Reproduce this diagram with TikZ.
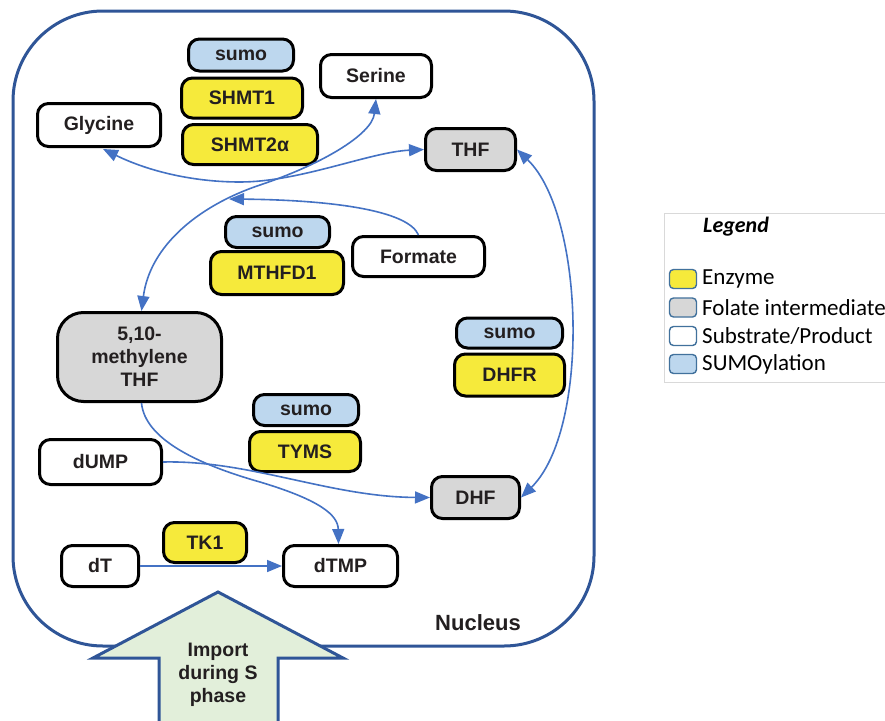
\documentclass[tikz,border=0pt]{standalone}
\usepackage{fontspec}
\setmainfont{Liberation Sans}
\newfontfamily\legfont{Carlito}
\usetikzlibrary{arrows.meta,calc}
\definecolor{enz}{HTML}{F6EA3B}
\definecolor{sumoc}{HTML}{BDD7EE}
\definecolor{fol}{HTML}{D7D7D7}
\definecolor{arr}{HTML}{4472C4}
\definecolor{nuc}{HTML}{2F5597}
\definecolor{imp}{HTML}{E2EFDA}
\definecolor{txtc}{HTML}{231F20}
\definecolor{legb}{HTML}{41719C}
\newcommand{\nodefont}{\fontsize{19.5}{23}\selectfont\bfseries}
\begin{document}
\begin{tikzpicture}[x=1pt,y=-1pt,
  box/.style={draw=black, line width=3pt, rounded corners=11pt, inner sep=0pt, font=\nodefont, text=txtc, align=center},
  conn/.style={draw=arr, line width=1.6pt, -{Triangle[length=15pt,width=12pt]}},
  dconn/.style={draw=arr, line width=1.6pt, {Triangle[length=15pt,width=12pt]}-{Triangle[length=15pt,width=12pt]}},
  legsq/.style={draw=legb, line width=1.4pt, rounded corners=4pt, minimum width=27pt, minimum height=19pt, inner sep=0pt},
  legtxt/.style={font=\legfont\fontsize{23}{26}\selectfont, text=black, anchor=west, inner sep=0pt}]
\useasboundingbox (0,0) rectangle (885,720);
\fill[white] (0,0) rectangle (885,720);
% nucleus
\draw[nuc, line width=3pt, rounded corners=90pt] (13,11) rectangle (594,646);
\node[font=\fontsize{22}{26}\selectfont\bfseries, text=txtc, inner sep=0pt] (nucl) at (478,623) {Nucleus};
% nodes
\node[box, fill=sumoc, minimum width=105pt, minimum height=32pt] (sumoa) at (241,55) {sumo};
\node[box, fill=enz, minimum width=121pt, minimum height=40pt] (shmta) at (242,98) {SHMT1};
\node[box, fill=enz, minimum width=135pt, minimum height=40pt] (shmtb) at (250,144.5) {SHMT2α};
\node[box, fill=white, minimum width=111pt, minimum height=43pt] (serine) at (376,76) {Serine};
\node[box, fill=white, minimum width=123pt, minimum height=43pt] (glycine) at (99,125) {Glycine};
\node[box, fill=fol, minimum width=90pt, minimum height=42pt] (thf) at (470.5,149.5) {THF};
\node[box, fill=sumoc, minimum width=104pt, minimum height=31pt] (sumob) at (277.5,232) {sumo};
\node[box, fill=enz, minimum width=133pt, minimum height=43pt] (mthfd) at (277,273) {MTHFD1};
\node[box, fill=white, minimum width=132pt, minimum height=40pt] (formate) at (418.5,256.5) {Formate};
\node[box, fill=fol, rounded corners=26pt, minimum width=164pt, minimum height=89pt] (mthf) at (139.5,357) {5,10-\\methylene\\THF};
\node[box, fill=sumoc, minimum width=106pt, minimum height=30pt] (sumoc) at (509.5,333) {sumo};
\node[box, fill=enz, minimum width=110pt, minimum height=42pt] (dhfr) at (509.5,375) {DHFR};
\node[box, fill=sumoc, minimum width=105pt, minimum height=31pt] (sumod) at (306,410) {sumo};
\node[box, fill=enz, minimum width=111pt, minimum height=40pt] (tyms) at (305,451.5) {TYMS};
\node[box, fill=white, minimum width=122pt, minimum height=45pt] (dump) at (100.5,462) {dUMP};
\node[box, fill=fol, minimum width=88pt, minimum height=42pt] (dhf) at (475.5,497.5) {DHF};
\node[box, fill=enz, minimum width=83pt, minimum height=40pt] (tk) at (205,542.5) {TK1};
\node[box, fill=white, minimum width=77pt, minimum height=41pt] (dt) at (100,566) {dT};
\node[box, fill=white, minimum width=114pt, minimum height=41pt] (dtmp) at (340.5,566) {dTMP};
% connectors
\coordinate (fj) at (229,199);
\draw[dconn] ($(glycine.south)+(4,1)$) .. controls (150,172) and (195,182) .. (240,182) .. controls (300,182) and (370,152) .. (thf.west);
\draw[dconn] (serine.south) .. controls (372,135) and (320,165) .. (260,185) .. controls (200,205) and (150,245) .. ($(mthf.north)+(2,0)$);
\draw[conn] (formate.north) .. controls (408,210) and (330,200) .. (fj);
\draw[dconn] (thf.east) .. controls (585,215) and (590,430) .. (dhf.east);
\draw[conn] (dump.east) .. controls (250,460) and (330,497) .. (dhf.west);
\draw[conn] ($(mthf.south)+(2,0)$) .. controls (145,440) and (200,465) .. (260,482) .. controls (320,500) and (338,515) .. ($(dtmp.north)+(-2,0)$);
\draw[conn] (dt.east) -- (dtmp.west);
% import arrow
\fill[imp] (159,730) -- (159,658) -- (93,658) -- (218,592) -- (343,658) -- (278,658) -- (278,730) -- cycle;
\draw[nuc, line width=3pt, line join=miter] (159,730) -- (159,658) -- (93,658) -- (218,592) -- (343,658) -- (278,658) -- (278,730);
\node[font=\fontsize{19.5}{23}\selectfont\bfseries, text=txtc, align=center, inner sep=0pt] (imptxt) at (218,675) {Import\\during S\\phase};
% legend
\draw[black!15, line width=1pt] (664,213) -- (890,213) (664,213) -- (664,382) -- (890,382);
\node[font=\legfont\bfseries\itshape\fontsize{22}{26}\selectfont, anchor=west, inner sep=0pt] (legt) at (703,227) {Legend};
\node[legsq, fill=enz] (lga) at (683,279) {};
\node[legsq, fill=fol] (lgb) at (683,307.5) {};
\node[legsq, fill=white] (lgc) at (683,336) {};
\node[legsq, fill=sumoc] (lgd) at (683,364) {};
\node[legtxt] (lta) at (702,279) {Enzyme};
\node[legtxt] (ltb) at (702,307.5) {Folate intermediate};
\node[legtxt] (ltc) at (702,336) {Substrate/Product};
\node[legtxt] (ltd) at (702,364) {SUMOylation};
\end{tikzpicture}
\end{document}
